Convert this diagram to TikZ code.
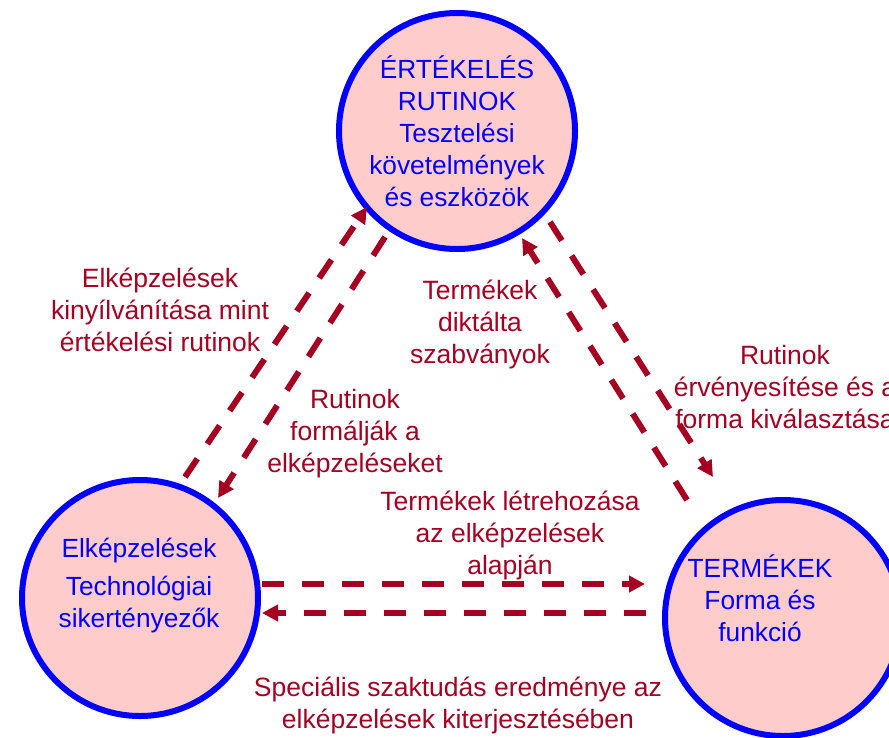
\documentclass[tikz,border=0pt]{standalone}
\usepackage{fontspec}
\setmainfont{Liberation Sans}
\usetikzlibrary{arrows.meta}
\definecolor{dred}{HTML}{A50021}
\definecolor{cblue}{HTML}{0000FF}
\definecolor{cpink}{HTML}{FFCCCC}
\begin{document}
\begin{tikzpicture}[x=1pt,y=-1pt,
 circ/.style={circle,draw=cblue,fill=cpink,line width=6pt,minimum size=236pt,inner sep=0pt},
 ctext/.style={text=cblue,align=center,font=\fontsize{26.3}{32}\selectfont,inner sep=0pt},
 lbl/.style={text=dred,align=center,font=\fontsize{26.5}{32}\selectfont,inner sep=0pt},
 conn/.style={draw=dred,line width=6pt,dash pattern=on 22pt off 18pt,-{Triangle[length=16pt,width=16pt]}}]
\useasboundingbox (0,0) rectangle (889,737);
% circles
\node[circ] (top) at (457,131) {};
\node[circ] (left) at (140,598) {};
\node[circ] (right) at (783,618) {};
% circle texts
\node[ctext] (toptext) at (457,131) {ÉRTÉKELÉS\\RUTINOK\\Tesztelési\\követelmények\\és eszközök};
\node[ctext] (lefttext) at (139,586) {Elképzelések\\[6pt]Technológiai\\sikertényezők};
\node[ctext] (righttext) at (760,598) {TERMÉKEK\\Forma és\\funkció};
% endpoints
\coordinate (a1) at (185,477); \coordinate (a2) at (367,207);
\coordinate (b1) at (385,237); \coordinate (b2) at (218,498);
\coordinate (c1) at (687,500); \coordinate (c2) at (522,238);
\coordinate (d1) at (550,222); \coordinate (d2) at (713,477);
\coordinate (e1) at (262,584); \coordinate (e2) at (645,584);
\coordinate (f1) at (646,613); \coordinate (f2) at (262,613);
\draw[conn] (a1) -- (a2);
\draw[conn] (b1) -- (b2);
\draw[conn] (c1) -- (c2);
\draw[conn] (d1) -- (d2);
\draw[conn] (e1) -- (e2);
\draw[conn] (f1) -- (f2);
% labels
\node[lbl] (l1) at (160,310) {Elképzelések\\kinyílvánítása mint\\értékelési rutinok};
\node[lbl] (l2) at (355,434) {Rutinok\\formálják a\\elképzeléseket};
\node[lbl] (l3) at (480,324) {Termékek\\diktálta\\szabványok};
\node[lbl] (l4) at (785,387) {Rutinok\\érvényesítése és a\\forma kiválasztása};
\node[lbl] (l5) at (510,535) {Termékek létrehozása\\az elképzelések\\alapján};
\node[lbl] (l6) at (458,705) {Speciális szaktudás eredménye az\\elképzelések kiterjesztésében};
\end{tikzpicture}
\end{document}
